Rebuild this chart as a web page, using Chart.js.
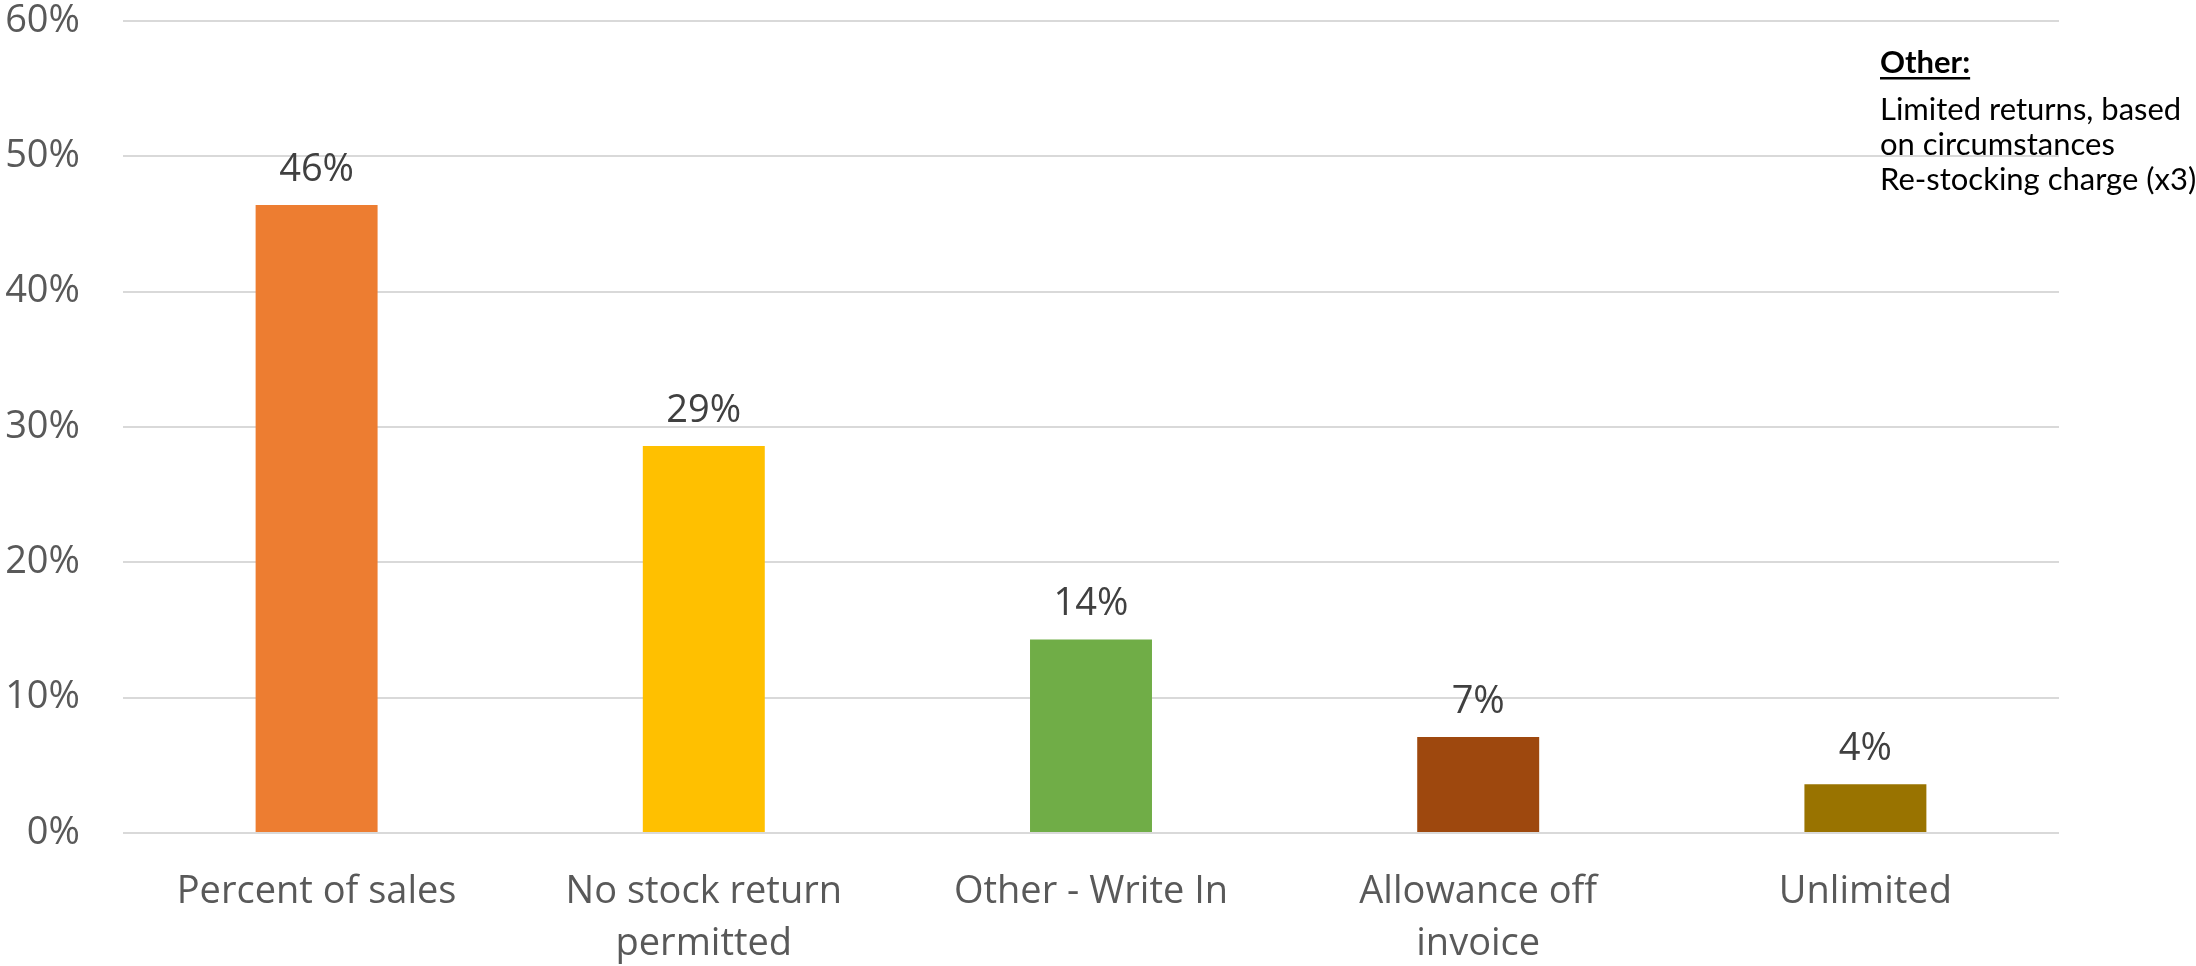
<!doctype html>
<html>

<head>
    <title>Stock return policy</title>
    <script src="https://cdn.jsdelivr.net/npm/chart.js@4/dist/chart.umd.min.js"></script>
    <style>
    html, body {
        margin: 0;
        padding: 0;
        background: #fff;
    }
    #wrap {
        position: relative;
        width: 2196px;
        height: 966px;
    }
    </style>
</head>

<body>
    <div id="wrap">
        <canvas id="canvas"></canvas>
    </div>
    <script>
    var categories = ["Percent of sales", ["No stock return", "permitted"], "Other - Write In", ["Allowance off", "invoice"], "Unlimited"];
    var shares = [46.4, 28.6, 14.3, 7.1, 3.6];
    var barColors = ["#ED7D31", "#FFC000", "#70AD47", "#9E480E", "#997300"];
    var yTicks = [0, 10, 20, 30, 40, 50, 60];
    var noteTitle = "Other:";
    var noteLines = ["Limited returns, based", "on circumstances", "Re-stocking charge (x3)"];

    // percentage printed above each bar
    var barLabels = {
        id: 'barLabels',
        afterDatasetsDraw: function(chart) {
            var ctx = chart.ctx;
            var meta = chart.getDatasetMeta(0);
            ctx.save();
            ctx.font = '38px "Open Sans"';
            ctx.fillStyle = '#404040';
            ctx.textAlign = 'center';
            ctx.textBaseline = 'middle';
            meta.data.forEach(function(bar, i) {
                ctx.fillText(Math.round(shares[i]) + '%', bar.x, bar.y - 35);
            });
            ctx.restore();
        }
    };

    // note in the upper right corner
    var sideNote = {
        id: 'sideNote',
        afterDraw: function(chart) {
            var ctx = chart.ctx;
            var x = 1880;
            ctx.save();
            ctx.fillStyle = '#000';
            ctx.textAlign = 'left';
            ctx.textBaseline = 'alphabetic';
            ctx.font = 'bold 31px Lato';
            ctx.fillText(noteTitle, x, 73);
            var w = ctx.measureText(noteTitle).width;
            ctx.fillRect(x, 77, w, 2.5);
            ctx.font = '31px Lato';
            var ys = [120, 155, 190];
            noteLines.forEach(function(line, i) {
                ctx.fillText(line, x, ys[i]);
            });
            ctx.restore();
        }
    };

    var config = {
        type: 'bar',
        data: {
            labels: categories,
            datasets: [{
                data: shares,
                backgroundColor: barColors,
                borderWidth: 0,
                categoryPercentage: 1,
                barPercentage: 0.315
            }]
        },
        options: {
            responsive: true,
            maintainAspectRatio: false,
            animation: false,
            layout: {
                padding: { top: 21, right: 137, bottom: 0, left: 0 }
            },
            plugins: {
                legend: { display: false },
                tooltip: { enabled: false }
            },
            scales: {
                x: {
                    grid: { display: false },
                    border: { display: false },
                    ticks: {
                        padding: 26,
                        color: '#595959',
                        font: { family: '"Open Sans"', size: 38, lineHeight: 1.35 },
                        maxRotation: 0,
                        autoSkip: false
                    },
                    afterFit: function(scale) {
                        scale.height = 133;
                    }
                },
                y: {
                    min: yTicks[0],
                    max: yTicks[yTicks.length - 1],
                    afterBuildTicks: function(scale) {
                        scale.ticks = yTicks.map(function(v) { return { value: v }; });
                    },
                    grid: {
                        color: '#d9d9d9',
                        lineWidth: 2,
                        drawTicks: false
                    },
                    border: { display: false },
                    ticks: {
                        padding: 43,
                        color: '#595959',
                        font: { family: '"Open Sans"', size: 38, lineHeight: 1 },
                        callback: function(v) { return v + '%'; }
                    },
                    afterFit: function(scale) {
                        scale.width = 123;
                        scale.paddingTop = 0;
                        scale.paddingBottom = 0;
                    }
                }
            }
        },
        plugins: [barLabels, sideNote]
    };

    window.onload = function() {
        window.myBar = new Chart(document.getElementById('canvas'), config);
    };
    </script>
</body>

</html>
